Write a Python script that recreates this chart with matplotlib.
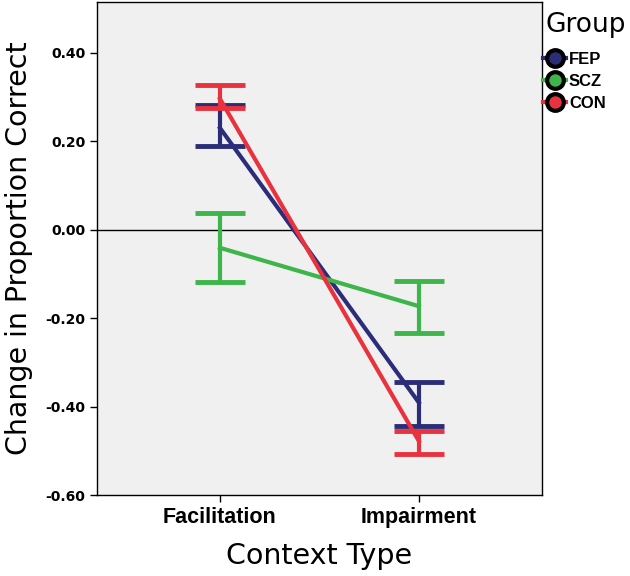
import matplotlib.pyplot as plt
from matplotlib.lines import Line2D

categories = ["Facilitation", "Impairment"]
groups = ["FEP", "SCZ", "CON"]
means = {
    "FEP": [0.230, -0.391],
    "SCZ": [-0.041, -0.173],
    "CON": [0.296, -0.478],
}
err_hi = {
    "FEP": [0.281, -0.344],
    "SCZ": [0.038, -0.115],
    "CON": [0.328, -0.456],
}
err_lo = {
    "FEP": [0.190, -0.444],
    "SCZ": [-0.119, -0.234],
    "CON": [0.276, -0.508],
}
yticks = [0.40, 0.20, 0.00, -0.20, -0.40, -0.60]

colors = {"FEP": "#2b2d78", "SCZ": "#3db54a", "CON": "#e8333f"}

plt.rcParams["font.family"] = ["Liberation Sans", "DejaVu Sans"]

fig = plt.figure(figsize=(6.3, 5.76), dpi=100)
ax = fig.add_axes([0.154, 0.1406, 0.706, 0.856])
ax.set_facecolor("#f0f0f0")

x = list(range(len(categories)))
for g in groups:
    lo = [m - l for m, l in zip(means[g], err_lo[g])]
    hi = [h - m for m, h in zip(means[g], err_hi[g])]
    ax.plot(x, means[g], color=colors[g], lw=3, zorder=3)
    ax.errorbar(x, means[g], yerr=[lo, hi], fmt="none", ecolor=colors[g],
                elinewidth=3, capsize=18, capthick=3.5, zorder=3)

ax.axhline(0, color="black", lw=1, zorder=2)

ax.set_xlim(-0.618, 1.618)
ax.set_ylim(-0.60, 0.515)
ax.set_xticks(x)
ax.set_xticklabels(categories, fontsize=15.5, fontweight="bold")
ax.set_yticks(yticks)
ax.set_yticklabels(["%.2f" % v for v in yticks], fontsize=10, fontweight="bold",
                   family="DejaVu Sans")
ax.tick_params(length=5, width=1, color="black")
for s in ax.spines.values():
    s.set_linewidth(1)
ax.set_xlabel("Context Type", fontsize=20.5, labelpad=10, family="DejaVu Sans")
ax.set_ylabel("Change in Proportion Correct", fontsize=20.5, labelpad=9,
              family="DejaVu Sans")

fig.text(0.866, 0.945, "Group", fontsize=19, family="DejaVu Sans")
handles = [Line2D([0], [0], color=colors[g], lw=3, marker="o", markersize=12,
                  markerfacecolor=colors[g], markeredgecolor="black",
                  markeredgewidth=3) for g in groups]
fig.legend(handles, groups, loc="upper left", bbox_to_anchor=(0.862, 0.910),
           frameon=False, handlelength=1.4, handletextpad=0.15,
           labelspacing=0.42, borderaxespad=0, borderpad=0,
           prop={"weight": "bold", "size": 12})

fig.savefig("out.png", dpi=100)
